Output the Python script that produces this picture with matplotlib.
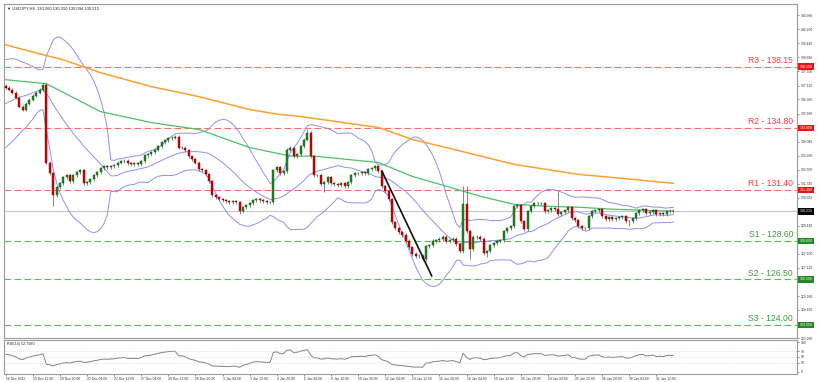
import numpy as np
import matplotlib.pyplot as plt
from matplotlib.transforms import blended_transform_factory

plt.rcParams['font.family'] = ['Liberation Sans', 'DejaVu Sans']

# USDJPY H4 closes (bar 0 = 16 Dec 2022)
pre_closes = [135.40, 135.20, 135.00, 134.85, 134.70, 134.95, 134.80, 134.60, 134.75, 135.05,
              134.90, 135.20, 135.10, 135.60, 136.45, 137.20, 137.65, 137.80, 137.50, 137.35,
              137.55, 137.25, 137.10]
first_open = 137.10
closes = [
    137.00, 136.89, 136.73, 136.46, 135.96, 135.80, 136.13, 136.35, 136.57, 136.73,
    136.89, 137.17, 132.90, 132.30, 131.10, 131.54, 131.76, 132.08, 132.19, 131.87,
    132.19, 132.36, 132.47, 131.76, 131.81, 131.98, 132.19, 132.36, 132.58, 132.69,
    132.63, 132.69, 132.74, 132.90, 132.96, 133.01, 132.85, 132.80, 132.85, 132.80,
    132.96, 133.29, 133.34, 133.45, 133.61, 133.78, 134.00, 134.11, 134.22, 134.27,
    134.32, 133.72, 133.72, 133.56, 133.23, 133.07, 132.90, 132.52, 132.47, 132.25,
    131.87, 131.10, 130.99, 130.88, 130.83, 130.77, 130.72, 130.77, 130.72, 130.23,
    130.44, 130.55, 130.66, 130.83, 130.88, 130.83, 130.77, 130.72, 130.72, 132.47,
    132.63, 132.30, 132.41, 133.61, 133.72, 133.23, 133.34, 133.78, 134.16, 134.54,
    133.23, 132.19, 132.19, 131.70, 131.81, 132.08, 131.76, 131.70, 131.65, 131.76,
    131.59, 131.81, 132.19, 132.30, 132.30, 132.36, 132.30, 132.52, 132.58, 132.69,
    132.41, 131.59, 131.32, 130.88, 129.63, 129.30, 129.08, 128.92, 128.59, 128.26,
    127.88, 127.77, 127.77, 127.60, 128.31, 128.37, 128.59, 128.64, 128.70, 128.81,
    128.59, 128.64, 128.70, 128.42, 128.04, 130.61, 129.13, 128.15, 128.81, 128.81,
    128.70, 127.93, 128.04, 128.37, 128.48, 128.59, 128.64, 129.13, 129.30, 129.41,
    130.50, 130.55, 129.68, 129.24, 130.23, 130.50, 130.66, 130.66, 130.66, 130.23,
    130.28, 130.39, 130.34, 130.06, 130.17, 130.28, 130.44, 129.84, 129.73, 129.41,
    129.30, 129.30, 129.95, 130.23, 130.28, 130.34, 129.95, 129.79, 129.90, 129.79,
    129.84, 129.90, 129.95, 129.68, 129.68, 129.84, 130.12, 130.28, 130.34, 130.12,
    130.17, 130.28, 130.06, 130.12, 130.06, 130.23, 130.26, 130.215,
]
wick = 0.09
spike_highs = {11: 137.28, 89: 134.76, 135: 131.60, 136: 131.60, 163: 131.30}
spike_lows = {14: 130.50, 69: 130.10, 94: 131.30, 123: 127.50, 137: 127.60, 142: 127.70, 184: 129.40}

# moving averages read at a few bars
green_ma_x = [0, 12, 28, 43, 57, 72, 84, 91, 110, 120, 130, 140, 150, 160, 169, 179, 189, 197]
green_ma_y = [137.44, 137.22, 135.69, 135.09, 134.71, 133.72, 133.25, 133.25, 132.90, 132.14,
              131.60, 131.05, 130.61, 130.50, 130.45, 130.34, 130.28, 130.23]
orange_ma_x = [0, 10, 17, 28, 43, 57, 72, 81, 87, 110, 120, 130, 150, 169, 179, 197]
orange_ma_y = [139.35, 138.86, 138.53, 137.82, 137.06, 136.51, 135.80, 135.53, 135.42, 134.82,
               134.16, 133.72, 132.80, 132.25, 132.08, 131.76]

trend_x = [111, 125.7]
trend_y = [132.43, 126.69]

level_names = ["R3", "R2", "R1", "S1", "S2", "S3"]
level_values = [138.15, 134.80, 131.40, 128.60, 126.50, 124.00]
last_price = 130.215

price_ticks = [140.98, 140.20, 139.44, 138.68, 137.90, 137.12, 136.36, 135.58, 134.80, 134.04,
               133.28, 132.50, 131.74, 130.96, 130.20, 129.44, 128.68, 127.90, 127.12, 126.36,
               125.58, 124.82, 124.04, 123.28]
date_labels = ["16 Dec 2022", "19 Dec 12:00", "20 Dec 20:00", "22 Dec 04:00", "23 Dec 12:00",
               "27 Dec 04:00", "28 Dec 12:00", "29 Dec 20:00", "3 Jan 04:00", "3 Jan 12:00",
               "4 Jan 20:00", "6 Jan 04:00", "9 Jan 12:00", "10 Jan 20:00", "12 Jan 04:00",
               "13 Jan 12:00", "16 Jan 20:00", "18 Jan 04:00", "19 Jan 12:00", "20 Jan 20:00",
               "24 Jan 04:00", "25 Jan 12:00", "26 Jan 20:00", "30 Jan 04:00", "31 Jan 12:00"]

# --- derived series ---
c = np.array(closes)
n = len(c)
x = np.arange(n)
o = np.concatenate([[first_open], c[:-1]])
hi = np.maximum(o, c) + wick
lo = np.minimum(o, c) - wick
for k, v in spike_highs.items():
    hi[k] = v
for k, v in spike_lows.items():
    lo[k] = v

full = np.concatenate([pre_closes, c])
npre = len(pre_closes)
mid = np.array([full[i - 19:i + 1].mean() for i in range(npre, npre + n)])
sd = np.array([full[i - 19:i + 1].std() for i in range(npre, npre + n)])

# RSI(14), Wilder
d = np.diff(full)
gain = np.clip(d, 0, None)
loss = np.clip(-d, 0, None)
ag, al = gain[:14].mean(), loss[:14].mean()
rsi_full = []
for i in range(14, len(d)):
    ag = (ag * 13 + gain[i]) / 14
    al = (al * 13 + loss[i]) / 14
    rsi_full.append(100 - 100 / (1 + ag / al))
rsi = np.array(rsi_full[-n:])

# --- figure ---
fig = plt.figure(figsize=(8.2, 3.82), dpi=100)
W, H = 820, 382
ax = fig.add_axes([4 / W, 1 - 338 / H, 793 / W, 334 / H])
ax_r = fig.add_axes([4 / W, 1 - 374 / H, 793 / W, 34 / H])

frame = '#9a9a9a'
for a in (ax, ax_r):
    for s in a.spines.values():
        s.set_color(frame)
        s.set_linewidth(0.8)
    a.set_xlim(-0.5, 233.5)

ax.set_ylim(123.34, 141.59)

# candles
up = c >= o
ax.vlines(x, lo, hi, color='#707070', lw=0.6, zorder=3)
ax.bar(x[up], (c - o)[up], bottom=o[up], width=0.6, color='#1f8a1f', edgecolor='#0b4f0b',
       lw=0.3, zorder=4)
ax.bar(x[~up], (c - o)[~up], bottom=o[~up], width=0.6, color='#d40000', edgecolor='#7a0000',
       lw=0.3, zorder=4)

# bands and MAs
band_col = '#8f8ff2'
ax.plot(x, mid, color=band_col, lw=0.7, zorder=2)
ax.plot(x, mid + 2 * sd, color=band_col, lw=0.7, zorder=2)
ax.plot(x, mid - 2 * sd, color=band_col, lw=0.7, zorder=2)
ax.plot(green_ma_x, green_ma_y, color='#4dc06a', lw=0.9, zorder=2)
ax.plot(orange_ma_x, orange_ma_y, color='#ffa033', lw=1.1, zorder=2)
ax.plot(trend_x, trend_y, color='#111111', lw=1.2, zorder=5)

# levels
ax.axhline(last_price, color='#c4c4cc', lw=0.8, zorder=1)
for name, v in zip(level_names, level_values):
    col = '#ff6b6b' if name.startswith('R') else '#5cb85c'
    tcol = '#ff3b3b' if name.startswith('R') else '#3c9a3c'
    ax.axhline(v, color=col, lw=0.8, ls=(0, (6, 3)), zorder=1)
    ax.text(793 / 797, v + 0.08, f"{name} - {v:.2f}", transform=blended_transform_factory(ax.transAxes, ax.transData),
            ha='right', va='bottom', fontsize=6.2, color=tcol)

# right price scale
ax.yaxis.tick_right()
ax.set_yticks(price_ticks)
ax.set_yticklabels([f"{t:.3f}" for t in price_ticks])
ax.tick_params(axis='y', labelsize=2.4, length=1.5, width=0.4, pad=1, colors='#333333')
ax.set_xticks([])
tr = blended_transform_factory(ax.transAxes, ax.transData)
for name, v in zip(level_names, level_values):
    bg = '#ee1111' if name.startswith('R') else '#1f8a1f'
    ax.text(1.003, v, f"{v:.3f}", transform=tr, ha='left', va='center', fontsize=2.6, color='white',
            bbox=dict(boxstyle='square,pad=0.35', fc=bg, ec='none'), zorder=10, clip_on=False)
ax.text(1.003, last_price, f"{last_price:.3f}", transform=tr, ha='left', va='center', fontsize=2.6,
        color='white', bbox=dict(boxstyle='square,pad=0.35', fc='black', ec='none'), zorder=10, clip_on=False)

ax.text(0.004, 0.993, "\u25bc USDJPY,H4  130.260 130.310 130.094 130.215", transform=ax.transAxes,
        ha='left', va='top', fontsize=3.0, color='#222222')

# RSI panel
ax_r.plot(x, rsi, color='#808080', lw=0.7)
ax_r.set_ylim(-6.7, 106.7)
for lvl in (70, 50, 30):
    ax_r.axhline(lvl, color='#c8c8c8', lw=0.5, ls=(0, (1, 2)))
ax_r.yaxis.tick_right()
ax_r.set_yticks([100, 70, 50, 30, 0])
ax_r.tick_params(axis='y', labelsize=2.4, length=1.5, width=0.4, pad=1, colors='#333333')
ax_r.text(0.004, 0.95, f"RSI(14) 52.7980", transform=ax_r.transAxes, ha='left', va='top',
          fontsize=2.7, color='#222222')
ax_r.set_xticks(np.arange(len(date_labels)) * 8)
ax_r.set_xticklabels(date_labels, ha='left')
ax_r.tick_params(axis='x', labelsize=2.4, length=1.5, width=0.4, pad=1, colors='#333333')

fig.savefig('out.png', dpi=100, facecolor='white')
